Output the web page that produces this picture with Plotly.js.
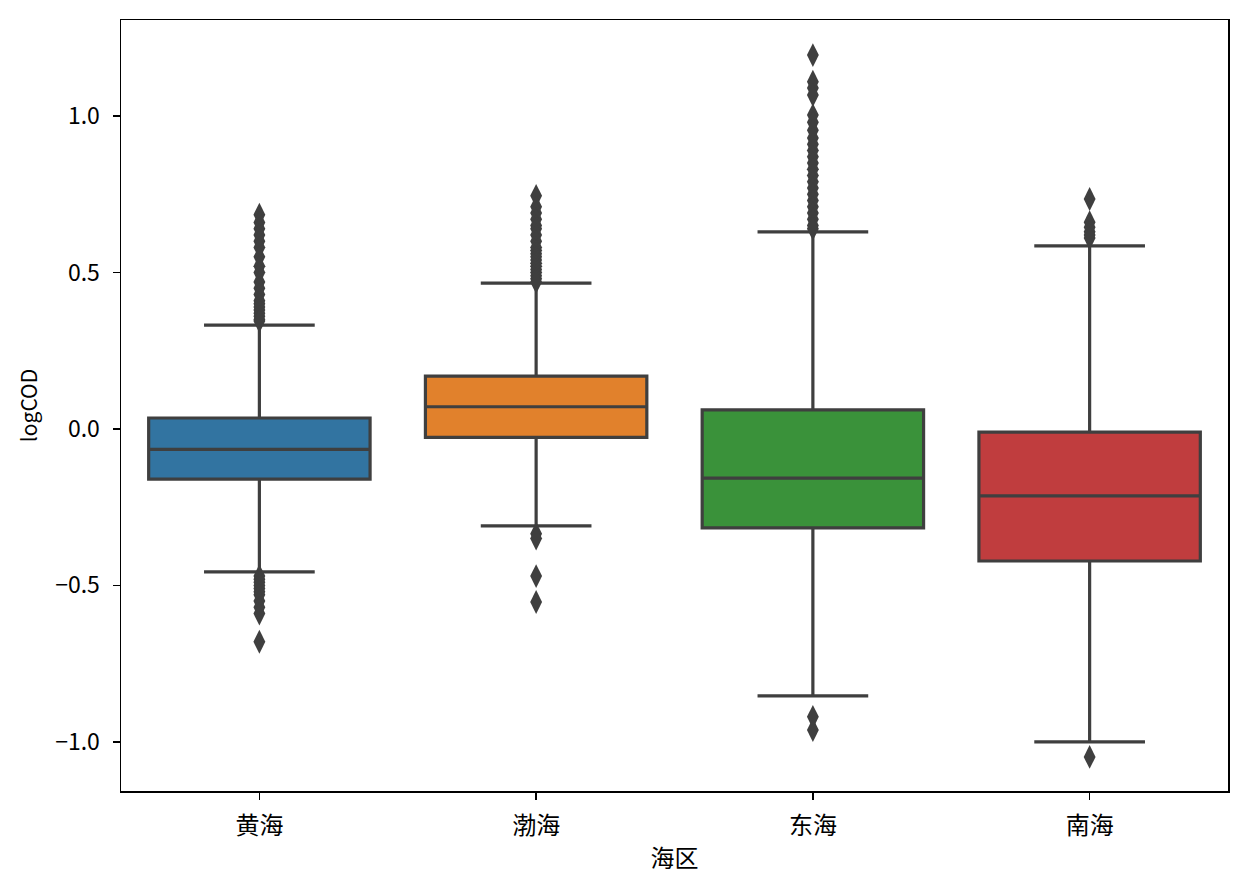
<!DOCTYPE html>
<html>
<head>
<meta charset="utf-8">
<script src="https://cdn.plot.ly/plotly-3.0.1.min.js"></script>
<style>html,body{margin:0;padding:0;background:#fff;}#chart{width:1240px;height:891px;}</style>
</head>
<body>
<div id="chart"></div>
<script>
const categories = ['黄海', '渤海', '东海', '南海'];
const colors = ['#3274a1', '#e1812c', '#3a923a', '#c03d3e'];
const q1 = [-0.160, -0.027, -0.316, -0.422];
const median = [-0.065, 0.071, -0.157, -0.214];
const q3 = [0.035, 0.169, 0.061, -0.010];
const lowerFence = [-0.457, -0.310, -0.853, -1.000];
const upperFence = [0.332, 0.466, 0.630, 0.585];

const outliersHuanghai = [0.685, 0.66, 0.64, 0.62, 0.60, 0.58, 0.55, 0.52, 0.50, 0.47, 0.45, 0.43, 0.41, 0.40, 0.39, 0.38, 0.37, 0.36, 0.35, 0.345,
  -0.47, -0.48, -0.49, -0.50, -0.51, -0.52, -0.53, -0.55, -0.57, -0.59, -0.68];
const outliersBohai = [0.745, 0.71, 0.69, 0.67, 0.65, 0.64, 0.62, 0.60, 0.58, 0.57, 0.56, 0.55, 0.54, 0.53, 0.52, 0.51, 0.50, 0.49, 0.48, 0.47,
  -0.335, -0.35, -0.47, -0.553];
const outliersDonghai = [1.195, 1.11, 1.09, 1.067, 1.003, 0.98, 0.955, 0.93, 0.91, 0.89, 0.87, 0.85, 0.83, 0.81, 0.79, 0.77, 0.75, 0.73, 0.71, 0.69, 0.67, 0.65, 0.64,
  -0.92, -0.962];
const outliersNanhai = [0.735, 0.661, 0.645, 0.63, 0.62, 0.61, -1.048];
const outliers = [outliersHuanghai, outliersBohai, outliersDonghai, outliersNanhai];

const lineColor = '#3f3f3f';
const font = '"Noto Sans CJK SC", "Noto Sans", sans-serif';

const traces = [];
categories.forEach((c, i) => {
  traces.push({
    type: 'box',
    x: [c],
    q1: [q1[i]], median: [median[i]], q3: [q3[i]],
    lowerfence: [lowerFence[i]], upperfence: [upperFence[i]],
    width: 0.8,
    fillcolor: colors[i],
    line: {color: lineColor, width: 3.2},
    whiskerwidth: 0.5,
    boxpoints: false,
    showlegend: false,
    hoverinfo: 'skip'
  });
});
categories.forEach((c, i) => {
  traces.push({
    type: 'scatter', mode: 'markers',
    x: outliers[i].map(() => c),
    y: outliers[i],
    marker: {symbol: 'diamond-tall', size: 17, color: lineColor, line: {width: 0}},
    showlegend: false,
    hoverinfo: 'skip'
  });
});

const layout = {
  width: 1240, height: 891,
  margin: {l: 121, r: 12, t: 20, b: 100},
  paper_bgcolor: '#fff', plot_bgcolor: '#fff',
  boxmode: 'overlay', boxgap: 0.2,
  font: {family: font, color: '#000'},
  showlegend: false,
  xaxis: {
    type: 'category', categoryorder: 'array', categoryarray: categories,
    range: [-0.5, 3.5],
    showgrid: false, zeroline: false,
    showline: true, linecolor: '#000', linewidth: 1.5, mirror: true,
    ticks: 'outside', ticklen: 7, tickwidth: 1.5, tickcolor: '#000',
    ticklabelstandoff: 6,
    tickfont: {family: font, size: 24, color: '#000'},
    title: {text: '海区', font: {family: font, size: 24, color: '#000'}, standoff: 10}
  },
  yaxis: {
    range: [-1.157, 1.307],
    tickvals: [-1.0, -0.5, 0.0, 0.5, 1.0],
    tickformat: '.1f',
    showgrid: false, zeroline: false,
    showline: true, linecolor: '#000', linewidth: 1.5, mirror: true,
    ticks: 'outside', ticklen: 7, tickwidth: 1.5, tickcolor: '#000',
    ticklabelstandoff: 8,
    tickfont: {family: font, size: 23, color: '#000'},
    title: {text: 'logCOD', font: {family: font, size: 21, color: '#000'}, standoff: 12}
  }
};

Plotly.newPlot('chart', traces, layout, {displayModeBar: false, staticPlot: true});
</script>
</body>
</html>
